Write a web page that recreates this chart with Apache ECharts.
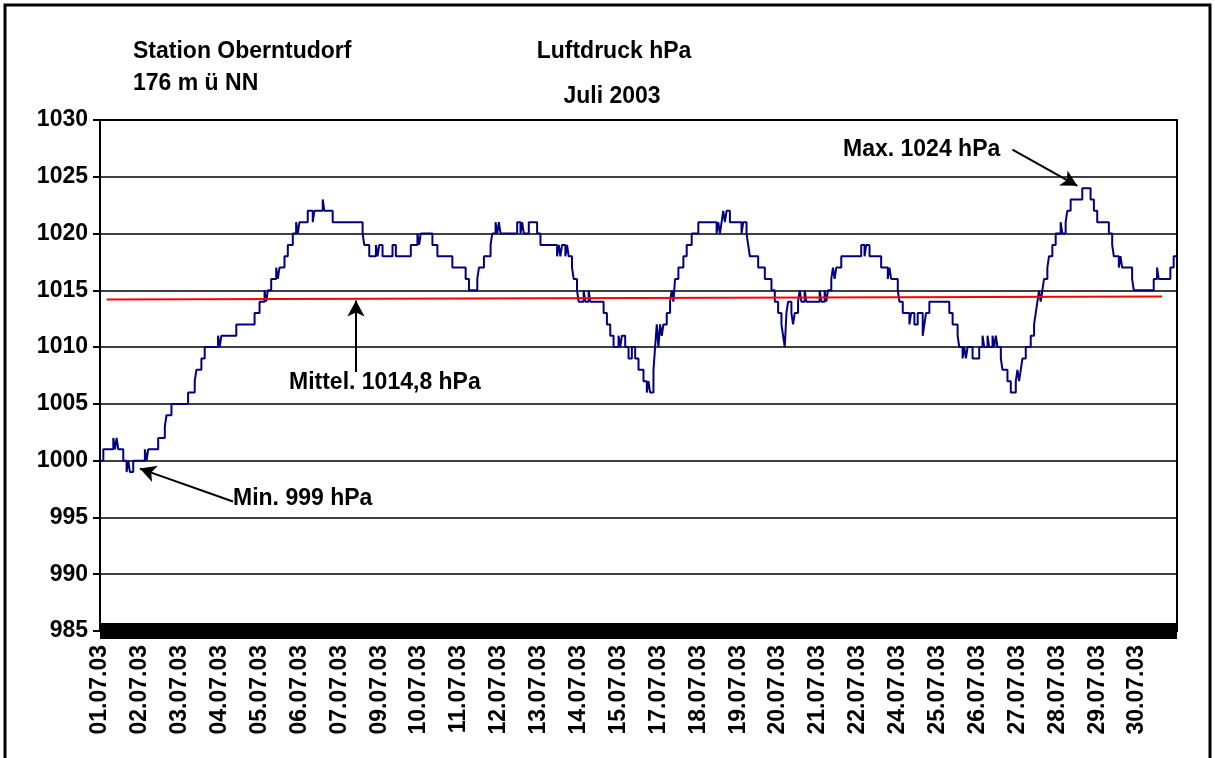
<!DOCTYPE html>
<html>
<head>
<meta charset="utf-8">
<script src="https://cdn.jsdelivr.net/npm/echarts@6/dist/echarts.min.js"></script>
<style>
  html, body { margin: 0; padding: 0; background: #fff; }
  #chart { width: 1215px; height: 758px; }
</style>
</head>
<body>
<div id="chart"></div>
<script>
// Datumsbeschriftung der x-Achse (alle 24 Messwerte eine)
const dateLabels = [
  "01.07.03", "02.07.03", "03.07.03", "04.07.03", "05.07.03", "06.07.03",
  "07.07.03", "09.07.03", "10.07.03", "11.07.03", "12.07.03", "13.07.03",
  "14.07.03", "15.07.03", "17.07.03", "18.07.03", "19.07.03", "20.07.03",
  "21.07.03", "22.07.03", "24.07.03", "25.07.03", "26.07.03", "27.07.03",
  "28.07.03", "29.07.03", "30.07.03"
];
const yTicks = [985, 990, 995, 1000, 1005, 1010, 1015, 1020, 1025, 1030];

// Luftdruck als Treppenkurve: Messwert-Nr. ab der der Wert gilt, Wert in hPa
const stepHour = [
  0, 2, 8, 9, 10, 11, 14, 16, 17, 18, 20, 27, 28, 29, 35, 39, 40, 43, 53, 57,
  58, 61, 63, 71, 72, 73, 82, 93, 96, 99, 100, 101, 103, 106, 107, 108, 111, 113, 116, 118,
  119, 120, 125, 128, 129, 134, 135, 140, 158, 159, 162, 166, 167, 168, 170, 176, 178, 187, 191, 192,
  193, 200, 203, 212, 220, 222, 227, 228, 231, 235, 236, 238, 239, 240, 241, 251, 253, 254, 255, 258,
  263, 265, 275, 276, 277, 278, 280, 281, 282, 284, 285, 287, 288, 291, 292, 294, 295, 303, 305, 307,
  309, 312, 313, 314, 316, 318, 320, 322, 324, 327, 329, 330, 331, 333, 334, 335, 336, 337, 338, 339,
  341, 343, 344, 345, 346, 348, 351, 353, 356, 360, 371, 372, 373, 374, 375, 376, 377, 379, 386, 387,
  389, 390, 391, 396, 400, 404, 406, 408, 410, 411, 412, 413, 414, 416, 417, 418, 420, 421, 422, 424,
  425, 433, 434, 436, 437, 438, 440, 441, 442, 443, 446, 458, 460, 461, 463, 470, 474, 475, 476, 480,
  481, 483, 487, 488, 490, 492, 495, 496, 497, 499, 511, 513, 516, 517, 519, 520, 521, 522, 525, 529,
  531, 532, 534, 535, 537, 538, 539, 540, 542, 543, 546, 548, 551, 552, 553, 554, 555, 557, 560, 562,
  563, 564, 565, 566, 567, 568, 570, 571, 573, 575, 578, 579, 581, 582, 584, 591, 596, 598, 600, 607,
  609, 610, 613, 614, 615, 621, 622, 634, 636, 637, 644, 646, 648
];
const stepHpa = [
  1000, 1001, 1002, 1001, 1002, 1001, 1000, 999, 1000, 999, 1000, 1001, 1000, 1001, 1002, 1003, 1004, 1005, 1006, 1007,
  1008, 1009, 1010, 1011, 1010, 1011, 1012, 1013, 1014, 1015, 1014, 1015, 1016, 1017, 1016, 1017, 1018, 1019, 1020, 1021,
  1020, 1021, 1022, 1021, 1022, 1023, 1022, 1021, 1020, 1019, 1018, 1019, 1018, 1019, 1018, 1019, 1018, 1019, 1020, 1019,
  1020, 1019, 1018, 1017, 1016, 1015, 1016, 1017, 1018, 1019, 1020, 1021, 1020, 1021, 1020, 1021, 1020, 1021, 1020, 1021,
  1020, 1019, 1018, 1019, 1018, 1019, 1018, 1019, 1018, 1017, 1016, 1015, 1014, 1015, 1014, 1015, 1014, 1013, 1012, 1011,
  1010, 1011, 1010, 1011, 1010, 1009, 1010, 1009, 1008, 1007, 1006, 1007, 1006, 1008, 1010, 1012, 1010, 1012, 1011, 1012,
  1013, 1014, 1015, 1014, 1016, 1017, 1018, 1019, 1020, 1021, 1020, 1021, 1020, 1021, 1022, 1021, 1022, 1021, 1020, 1021,
  1020, 1019, 1018, 1017, 1016, 1015, 1014, 1013, 1012, 1011, 1010, 1013, 1014, 1013, 1012, 1013, 1014, 1015, 1014, 1015,
  1014, 1015, 1014, 1015, 1014, 1015, 1016, 1017, 1016, 1017, 1018, 1019, 1018, 1019, 1018, 1017, 1016, 1017, 1016, 1015,
  1014, 1013, 1012, 1013, 1012, 1013, 1011, 1012, 1013, 1014, 1013, 1012, 1011, 1010, 1009, 1010, 1009, 1010, 1009, 1010,
  1011, 1010, 1011, 1010, 1011, 1010, 1011, 1010, 1009, 1008, 1007, 1006, 1007, 1008, 1007, 1008, 1009, 1010, 1011, 1012,
  1013, 1014, 1015, 1014, 1015, 1016, 1017, 1018, 1019, 1020, 1021, 1020, 1021, 1022, 1023, 1024, 1023, 1022, 1021, 1020,
  1019, 1018, 1017, 1018, 1017, 1016, 1015, 1016, 1017, 1016, 1017, 1018, 1018
];

// rote Mittelwertlinie
const meanHour = [4, 639];
const meanHpa = [1014.2, 1014.45];

// Pfeile der Beschriftungen (Start -> Spitze)
const maxArrowHour = [549, 588];
const maxArrowHpa = [1027.4, 1024.2];
const meanArrowHour = [154, 154];
const meanArrowHpa = [1007.8, 1014.1];
const minArrowHour = [80, 24];
const minArrowHpa = [996.4, 999.3];

const FONT = '"Liberation Sans", Arial, sans-serif';
const chart = echarts.init(document.getElementById("chart"));

const pressure = stepHour.map((h, i) => [h, stepHpa[i]]);
const mean = meanHour.map((h, i) => [h, meanHpa[i]]);
const arrow = (hs, vs) => [{ coord: [hs[0], vs[0]] }, { coord: [hs[1], vs[1]] }];

const txt = (text, x, y, align) => ({
  type: "text",
  x: x,
  y: y,
  style: {
    text: text,
    fill: "#000",
    font: "bold 23px " + FONT,
    align: align || "left",
    verticalAlign: "middle",
  },
});

chart.setOption({
  animation: false,
  backgroundColor: "#fff",
  grid: {
    left: 100,
    right: 38,
    top: 120,
    bottom: 127,
    show: true,
    borderColor: "#000",
    borderWidth: 2,
  },
  xAxis: {
    type: "value",
    min: 0,
    max: 648,
    interval: 24,
    axisLine: { lineStyle: { color: "#000", width: 16, cap: "butt" } },
    axisTick: { show: false },
    splitLine: { show: false },
    axisLabel: {
      rotate: 90,
      margin: 14,
      color: "#000",
      fontFamily: FONT,
      fontWeight: "bold",
      fontSize: 23,
      formatter: (v) => dateLabels[v / 24] || "",
    },
  },
  yAxis: {
    type: "value",
    min: yTicks[0],
    max: yTicks[yTicks.length - 1],
    interval: 5,
    axisLine: { show: true, lineStyle: { color: "#000", width: 2 } },
    axisTick: { show: true, length: 7, lineStyle: { color: "#000", width: 2 } },
    splitLine: { show: true, lineStyle: { color: "#000", width: 1.5 } },
    axisLabel: {
      margin: 12,
      color: "#000",
      fontFamily: FONT,
      fontWeight: "bold",
      fontSize: 23,
      formatter: (v) => String(v),
    },
  },
  series: [
    {
      name: "Luftdruck",
      type: "line",
      step: "end",
      data: pressure,
      showSymbol: false,
      lineStyle: { color: "#000080", width: 2 },
      z: 3,
    },
    {
      name: "Mittel",
      type: "line",
      data: mean,
      showSymbol: false,
      lineStyle: { color: "#ff0000", width: 2 },
      z: 4,
      markLine: {
        silent: true,
        symbol: ["none", "arrow"],
        symbolSize: [13, 16],
        label: { show: false },
        lineStyle: { color: "#000", width: 2, type: "solid" },
        data: [
          arrow(maxArrowHour, maxArrowHpa),
          arrow(meanArrowHour, meanArrowHpa),
          arrow(minArrowHour, minArrowHpa),
        ],
      },
    },
  ],
  graphic: [
    {
      type: "rect",
      shape: { x: 5, y: 5, width: 1205, height: 800 },
      style: { fill: null, stroke: "#000", lineWidth: 3 },
      silent: true,
      z: 0,
    },
    txt("Station Oberntudorf", 133, 52),
    txt("176 m ü NN", 133, 84),
    txt("Luftdruck hPa", 614, 52, "center"),
    txt("Juli 2003", 612, 97, "center"),
    txt("Max. 1024 hPa", 843, 150),
    txt("Mittel. 1014,8 hPa", 289, 383),
    txt("Min. 999 hPa", 233, 499),
  ],
});

window.addEventListener("resize", () => chart.resize());
</script>
</body>
</html>
